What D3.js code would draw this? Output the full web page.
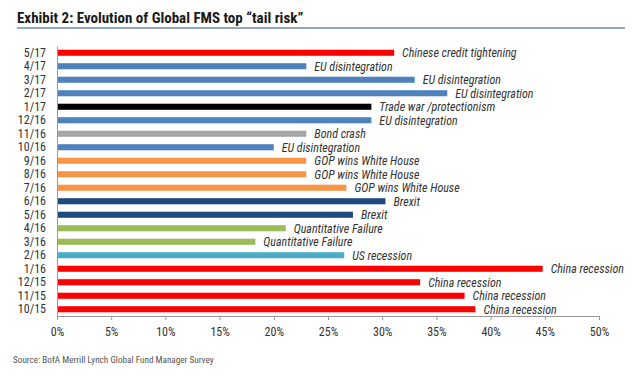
<!DOCTYPE html>
<html><head><meta charset="utf-8">
<script src="https://cdn.jsdelivr.net/npm/d3@7"></script>
<style>
body{margin:0;background:#fff;}
svg{display:block;}
</style></head>
<body>
<svg id="c" width="640" height="379"></svg>
<script>
const categories = ["5/17","4/17","3/17","2/17","1/17","12/16","11/16","10/16","9/16","8/16","7/16","6/16","5/16","4/16","3/16","2/16","1/16","12/15","11/15","10/15"];
const values = [31.1,23,33,36,29,29,23,20,23,23,26.7,30.3,27.3,21.1,18.3,26.5,44.8,33.5,37.6,38.6];
const risks = ["Chinese credit tightening","EU disintegration","EU disintegration","EU disintegration","Trade war /protectionism","EU disintegration","Bond crash","EU disintegration","GOP wins White House","GOP wins White House","GOP wins White House","Brexit","Brexit","Quantitative Failure","Quantitative Failure","US recession","China recession","China recession","China recession","China recession"];
const riskColors = {
  "Chinese credit tightening":"#ff0000",
  "EU disintegration":"#4f81bd",
  "Trade war /protectionism":"#000000",
  "Bond crash":"#a6a6a6",
  "GOP wins White House":"#f79646",
  "Brexit":"#1f497d",
  "Quantitative Failure":"#9bbb59",
  "US recession":"#4bacc6",
  "China recession":"#ff0000"
};
const xTicks = [0,5,10,15,20,25,30,35,40,45,50];
const title = "Exhibit 2: Evolution of Global FMS top \u201ctail risk\u201d";
const source = "Source: BofA Merrill Lynch Global Fund Manager Survey";

const narrow = "'Liberation Sans Narrow','Arial Narrow','Roboto Condensed',sans-serif";
const svg = d3.select("#c");
const m = {left:57, right:599, top:46, bottom:316};
const x = d3.scaleLinear().domain([0,50]).range([m.left, m.right]);
const y = d3.scaleBand().domain(categories).range([m.top, m.bottom]).paddingInner(0.55).paddingOuter(0.275);

// title
svg.append("text").attr("x",17).attr("y",23)
  .attr("font-family",narrow).attr("font-weight","bold").attr("font-size",15)
  .attr("fill","#1a1a1a").text(title);
svg.append("line").attr("x1",17).attr("x2",625).attr("y1",28).attr("y2",28)
  .attr("stroke","#6d8bab").attr("stroke-width",1.5);

// bars
const data = categories.map((c,i)=>({c, v:values[i], r:risks[i]}));
svg.append("g").selectAll("rect").data(data).join("rect")
  .attr("x", x(0)).attr("y", d=>y(d.c))
  .attr("width", d=>x(d.v)-x(0)).attr("height", y.bandwidth())
  .attr("fill", d=>riskColors[d.r]);

// labels
svg.append("g").selectAll("text").data(data).join("text")
  .attr("x", d=>x(d.v)+8).attr("y", d=>y(d.c)+y.bandwidth()/2)
  .attr("dy","0.36em")
  .attr("font-family",narrow).attr("font-style","italic").attr("font-size",12)
  .attr("fill","#333").text(d=>d.r);

// x axis
const xa = svg.append("g").attr("transform",`translate(0,${m.bottom})`)
  .call(d3.axisBottom(x).tickValues(xTicks).tickFormat(d=>d+"%").tickSize(4).tickSizeOuter(0));
xa.select(".domain").attr("stroke","#999");
xa.selectAll(".tick line").attr("stroke","#999");
xa.selectAll(".tick text").attr("font-family",narrow).attr("font-size",12).attr("fill","#333").attr("dy","1.05em");

// y axis
const ya = svg.append("g").attr("transform",`translate(${m.left},0)`)
  .call(d3.axisLeft(y).tickSize(0).tickPadding(11));
ya.select(".domain").attr("stroke","#999");
ya.selectAll(".tick text").attr("font-family",narrow).attr("font-size",12).attr("fill","#333");

// source
svg.append("text").attr("x",13).attr("y",363)
  .attr("font-family",narrow).attr("font-size",9.2).attr("fill","#555").text(source);
</script>
</body></html>
